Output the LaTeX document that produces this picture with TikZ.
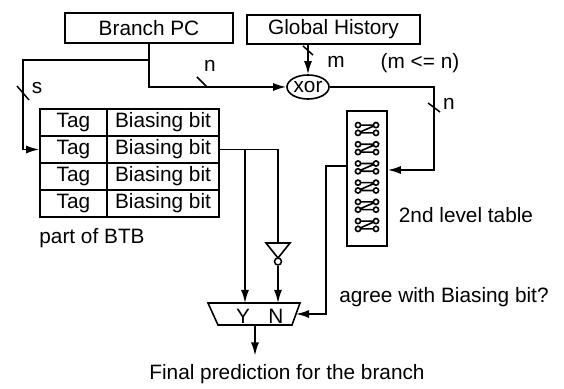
\documentclass[tikz,border=0pt]{standalone}
\usepackage{fontspec}
\setmainfont{Liberation Sans}
\usetikzlibrary{arrows.meta,shapes.geometric}
\begin{document}
\begin{tikzpicture}[x=0.5pt,y=-0.5pt, line width=0.8pt,
  every node/.style={font=\fontsize{10.4}{12}\selectfont, inner sep=0pt},
  box/.style={draw, rectangle},
  arr/.style={-{Latex[length=6.5pt,width=4pt]}},
  busmark/.style={line width=0.75pt},
  glyph/.style={line width=0.8pt}]
\useasboundingbox (0,0) rectangle (564,389);
% top boxes
\node[box, minimum width=84pt, minimum height=15pt] (bpc) at (149,28) {Branch PC};
\node[box, minimum width=86.5pt, minimum height=14.5pt] (gh) at (333.5,29.5) {Global History};
\node[draw, ellipse, minimum width=21pt, minimum height=12pt] (xor) at (308,87) {xor};
% BTB rows
\foreach \k in {1,...,4} {
  \node[box, minimum width=33.5pt, minimum height=13.5pt] (tag\k) at (73.5, {122.5+27*(\k-1)}) {Tag};
  \node[box, minimum width=56pt, minimum height=13.5pt] (bias\k) at (163, {122.5+27*(\k-1)}) {Biasing bit};
}
% 2nd level table
\node[box, minimum width=20pt, minimum height=67.5pt] (lvl) at (367,178.5) {};
\foreach \yy in {129,148.2,167.4,186.6,205.8,225} {
  \draw[glyph] (358,\yy-3.9) -- (376,\yy-3.9) -- (358,\yy+3.9) -- (376,\yy+3.9);
  \foreach \xx/\dy in {358/-3.9,376/-3.9,358/3.9,376/3.9}
    \draw[glyph, fill=white] (\xx,\yy+\dy) circle[radius=2.6];
}
% mux
\coordinate (muxTL) at (208,303);
\coordinate (muxTR) at (300,303);
\coordinate (muxBR) at (292,325);
\coordinate (muxBL) at (218,325);
\coordinate (muxE) at (296,314);
\coordinate (muxS) at (255,325);
\draw (muxTL) -- (muxTR) -- (muxBR) -- (muxBL) -- cycle;
\node (yl) at (243,316) {Y};
\node (nl) at (276,316) {N};
% inverter
\coordinate (invT) at (278,243);
\draw (266,243) -- (290,243) -- (278,258) -- cycle;
\node[draw, circle, minimum size=3.5pt, line width=0.75pt] (bub) at (278,261.5) {};
% connectors
\coordinate (sL) at (23,60);
\draw[arr] (bpc.south) |- (xor.west);
\draw[arr] (bpc.south |- sL) -- (sL) |- (tag2.west);
\draw[arr] (gh.south -| xor.north) -- (xor.north);
\coordinate (nR) at (434,87);
\draw[arr] (xor.east) -- (nR) |- ([yshift=4.25pt]lvl.east);
\coordinate (inR) at (278,0);
\coordinate (yJ) at (245,0);
\draw (bias2.east) -- (bias2.east -| inR) -- (invT);
\draw[arr] (bias2.east -| yJ) -- (yJ |- muxTL);
\draw[arr] (bub.south) -- (bub.south |- muxTL);
\coordinate (aJ) at (326,0);
\draw[arr] ([yshift=6.25pt]lvl.west) -| (aJ |- muxE) -- (muxE);
\node (final) at (287,374) {Final prediction for the branch};
\draw[arr] (muxS) -- ([yshift=4pt]muxS |- final.north);
% bus marks
\draw[busmark] (17,86) -- (29,100);
\draw[busmark] (197,77) -- (207,87);
\draw[busmark] (428,103) -- (440,112);
\draw[busmark] (303,46) -- (313,55);
% labels
\node (ls) at (37,88) {s};
\node (ln1) at (210,66) {n};
\node (lm) at (336,62) {m};
\node (lmn) at (420,63) {(m <= n)};
\node (ln2) at (449,104) {n};
\node (l2nd) at (466,215) {2nd level table};
\node (lagree) at (444,297) {agree with Biasing bit?};
\node (lbtb) at (92,238) {part of BTB};
\end{tikzpicture}
\end{document}
